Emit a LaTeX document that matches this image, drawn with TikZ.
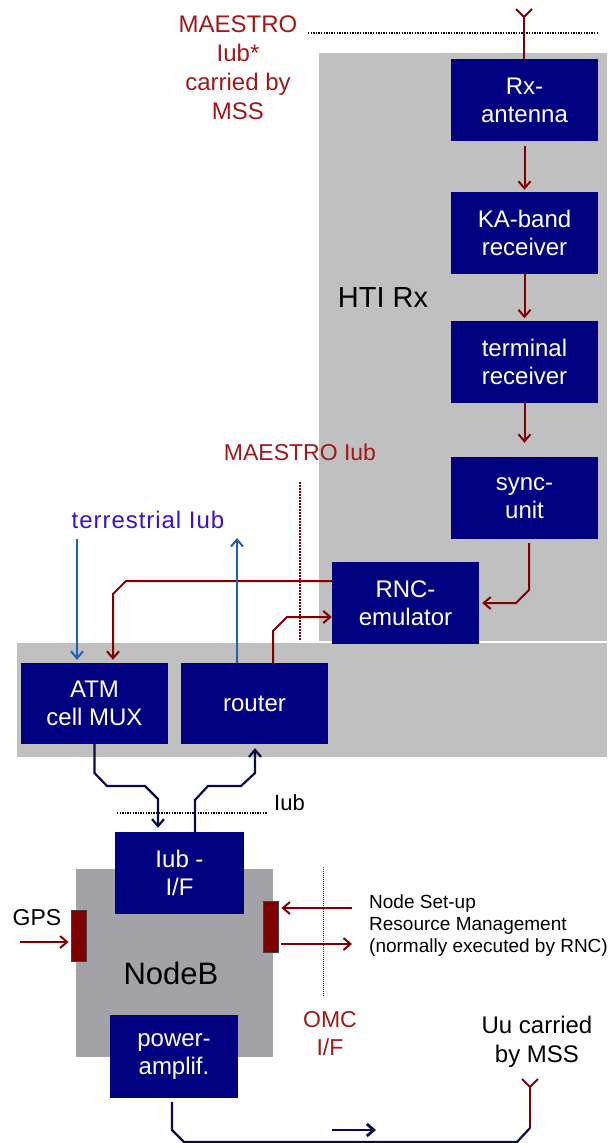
\documentclass[tikz,border=0pt]{standalone}
\usepackage{fontspec}
\setmainfont{Liberation Sans}
\usetikzlibrary{arrows.meta,calc}
\definecolor{boxnavy}{HTML}{000080}
\definecolor{lightgray}{HTML}{C0C0C0}
\definecolor{nodebgray}{HTML}{A3A2A6}
\definecolor{darkred}{HTML}{7F0000}
\definecolor{textred}{HTML}{A01818}
\definecolor{arrblue}{HTML}{2060B0}
\definecolor{textblue}{HTML}{3A10D0}
\definecolor{linknavy}{HTML}{0A0A4A}
\tikzset{
  boxnode/.style={fill=boxnavy, text=white, align=center, inner sep=0pt,
    minimum width=147pt, minimum height=82pt,
    font=\fontsize{24}{28}\selectfont},
  redarr/.style={draw=darkred, line width=2pt, -{Straight Barb[length=7pt,width=12pt]}},
  redline/.style={draw=darkred, line width=2pt},
  bluearr/.style={draw=arrblue, line width=2pt, -{Straight Barb[length=7pt,width=12pt]}},
  navyarr/.style={draw=linknavy, line width=2.2pt, -{Straight Barb[length=7pt,width=12pt]}},
  navyline/.style={draw=linknavy, line width=2.2pt},
  bar/.style={fill=darkred, draw=black!75, line width=0.8pt},
  lbl/.style={inner sep=0pt, align=center},
  dotline/.style={line width=1.3pt, dash pattern=on 1.3pt off 1.3pt},
}
\begin{document}
\begin{tikzpicture}[x=1pt,y=-1pt]
\useasboundingbox (0,0) rectangle (615,1143);
% backgrounds
\fill[lightgray] (319,53) rectangle (607,641);
\fill[lightgray] (17,643) rectangle (607,757);
\fill[nodebgray] (76,869) rectangle (273,1057);

% boxes
\node[boxnode] (rx) at (524.5,100) {Rx-\\antenna};
\node[boxnode] (ka) at (524.5,233) {KA-band\\receiver};
\node[boxnode] (term) at (524.5,361.5) {terminal\\receiver};
\node[boxnode] (sync) at (524.5,498) {sync-\\unit};
\node[boxnode] (rnc) at (405.5,603) {RNC-\\emulator};
\node[boxnode, minimum height=81pt] (atm) at (94.5,703.5) {ATM\\cell MUX};
\node[boxnode, minimum height=81pt] (router) at (254.5,703.5) {router};
\node[boxnode, minimum width=129pt] (iub) at (179.5,873) {Iub -\\I/F};
\node[boxnode, minimum width=128pt, minimum height=83pt] (power) at (174,1056.5) {power-\\amplif.};

% bars
\node[bar, minimum width=15pt, minimum height=51pt, inner sep=0pt] (gpsbar) at (78.5,935.5) {};
\node[bar, minimum width=15pt, minimum height=51pt, inner sep=0pt] (omcbar) at (270.5,926.5) {};

% texts
\node[lbl, text=textred, font=\fontsize{24}{29}\selectfont] (maestrotop) at (238,68) {MAESTRO\\Iub*\\carried by\\MSS};
\node[lbl, font=\fontsize{29}{34}\selectfont] (htirx) at (383,298) {HTI Rx};
\node[lbl, text=textred, font=\fontsize{23}{28}\selectfont] (maestroiub) at (300,452) {MAESTRO Iub};
\node[lbl, text=textblue, font=\fontsize{24}{28}\selectfont\addfontfeature{LetterSpace=4}] (terr) at (148,520) {terrestrial Iub};
\node[lbl, anchor=west, font=\fontsize{22}{26}\selectfont] (iublbl) at (274,803) {Iub};
\node[lbl, font=\fontsize{23}{28}\selectfont] (gps) at (37,918) {GPS};
\node[lbl, font=\fontsize{31}{36}\selectfont] (nodeb) at (171,973) {NodeB};
\node[lbl, anchor=west, align=left, font=\fontsize{19}{22}\selectfont] (setup) at (369,926) {Node Set-up\\Resource Management\\(normally executed by RNC)};
\node[lbl, text=textred, font=\fontsize{23}{28}\selectfont] (omc) at (330,1034) {OMC\\I/F};
\node[lbl, font=\fontsize{24}{29}\selectfont] (uu) at (537,1042) {Uu carried\\by MSS};

% dotted lines
\draw[black, dotline] (308,33) -- (598,33);
\draw[darkred, dotline, line width=1.6pt, dash pattern=on 1.6pt off 1.4pt] (300,482) -- (300,641);
\draw[black, dotline] (117,813) -- (267,813);
\draw[red!75!black, line width=1pt, dash pattern=on 1pt off 1pt] (323,867) -- (323,997);

% top antenna
\coordinate (ant1) at (524,17);
\draw[redline, line width=1.8pt] (rx.north -| ant1) -- (ant1) -- (516,9);
\draw[redline, line width=1.8pt] (ant1) -- (532,9);

% chain arrows
\draw[redarr] ([yshift=-5pt]rx.south) -- ([yshift=2pt]ka.north);
\draw[redarr] (ka.south) -- ([yshift=2pt]term.north);
\draw[redarr] (term.south) -- ([yshift=14pt]sync.north);

% sync -> rnc
\draw[redarr] ([xshift=4.5pt,yshift=-4pt]sync.south) -- (529,590) -- (516,603) -- ([xshift=3pt]rnc.east);
% rnc -> atm
\draw[redarr] ([yshift=22pt]rnc.west) -- (126,581) -- (113,594) -- ([xshift=18.5pt,yshift=3pt]atm.north);
% router -> rnc
\draw[redarr] ([xshift=18.5pt]router.north) -- (273,631) -- (287,617) -- ([yshift=-14pt]rnc.west);

% terrestrial
\coordinate (tin) at (77,539);
\coordinate (tout) at (237,538);
\draw[bluearr] (tin) -- ([xshift=-17.5pt,yshift=3pt]atm.north);
\draw[bluearr] ([xshift=-17.5pt]router.north) -- (tout);

% atm -> iub
\draw[navyarr] (atm.south) -- (94.5,773) -- (107,786) -- (145,786) -- (158,799) -- ([xshift=-21.5pt,yshift=4pt]iub.north);
% iub -> router
\draw[navyarr] ([xshift=15.5pt]iub.north) -- (195,800) -- (208,786) -- (241,786) -- (255,773) -- ([xshift=0.5pt,yshift=-4pt]router.south);

% GPS and OMC arrows
\coordinate (gpsin) at (20,942);
\draw[redarr] (gpsin) -- ([xshift=-2pt]gpsbar.west |- gpsin);
\coordinate (omcin) at (352,908);
\coordinate (omcout) at (352,944);
\draw[redarr] (omcin) -- ([xshift=3pt]omcbar.east |- omcin);
\draw[redarr] ([xshift=3pt]omcbar.east |- omcout) -- (omcout);

% power -> bottom antenna
\coordinate (ant2) at (530,1128);
\coordinate (ant2j) at (530,1087);
\draw[navyline] ([yshift=-4pt]power.south -| 172,0) -- (172,1130) -- (184,1142) -- (517,1142) -- (ant2);
\draw[redline, line width=1.8pt] (ant2) -- (ant2j) -- (522,1079);
\draw[redline, line width=1.8pt] (ant2j) -- (538,1079);
\coordinate (dirA) at (332,1130);
\coordinate (dirB) at (376,1130);
\draw[navyarr, line width=2.8pt] (dirA) -- (dirB);
\end{tikzpicture}
\end{document}
